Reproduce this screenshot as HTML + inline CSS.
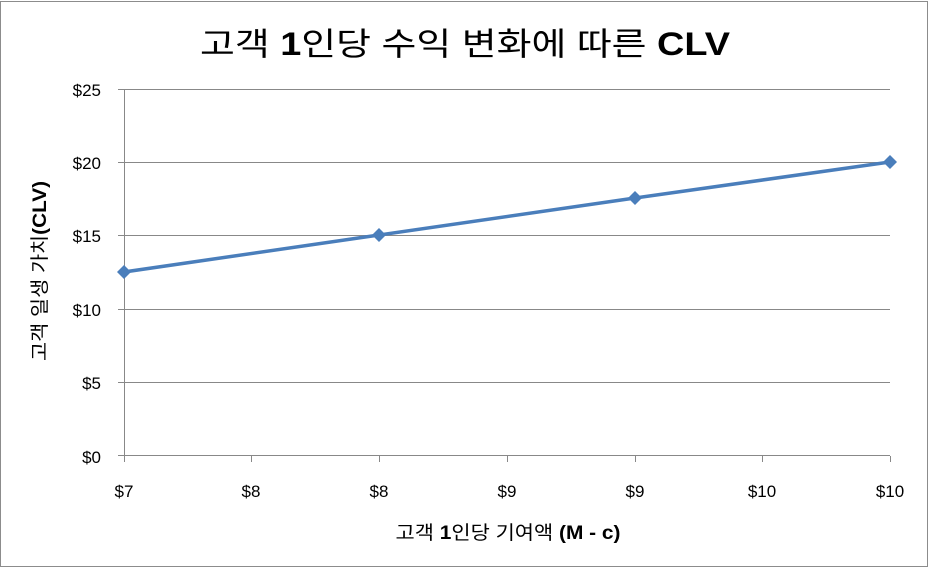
<!DOCTYPE html>
<html><head><meta charset="utf-8"><style>
body{margin:0;background:#fff;}
svg{display:block;}
text{font-family:"Liberation Sans","Noto Sans CJK KR",sans-serif;fill:#000;}
</style></head><body>
<svg width="930" height="569" viewBox="0 0 930 569">
<rect x="0.5" y="1.5" width="927" height="565" fill="#fff" stroke="#8c8c8c"/>
<text x="465" y="55" text-anchor="middle" font-size="32" textLength="530" lengthAdjust="spacingAndGlyphs">고객 <tspan font-weight="bold">1</tspan>인당 수익 변화에 따른 <tspan font-weight="bold">CLV</tspan></text>
<g stroke="#888" stroke-width="1">
<line x1="118" y1="89.5" x2="890" y2="89.5"/>
<line x1="118" y1="162.5" x2="890" y2="162.5"/>
<line x1="118" y1="235.5" x2="890" y2="235.5"/>
<line x1="118" y1="309.5" x2="890" y2="309.5"/>
<line x1="118" y1="382.5" x2="890" y2="382.5"/>
<line x1="118" y1="455.5" x2="890" y2="455.5"/>
<line x1="124.5" y1="89" x2="124.5" y2="462"/>
<line x1="251.5" y1="456" x2="251.5" y2="462"/>
<line x1="379.5" y1="456" x2="379.5" y2="462"/>
<line x1="507.5" y1="456" x2="507.5" y2="462"/>
<line x1="635.5" y1="456" x2="635.5" y2="462"/>
<line x1="762.5" y1="456" x2="762.5" y2="462"/>
<line x1="890.5" y1="456" x2="890.5" y2="462"/>
</g>
<g font-size="17" text-anchor="end">
<text x="101" y="96">$25</text>
<text x="101" y="169">$20</text>
<text x="101" y="242">$15</text>
<text x="101" y="316">$10</text>
<text x="101" y="389">$5</text>
<text x="101" y="463">$0</text>
</g>
<g font-size="17" text-anchor="middle">
<text x="124" y="497">$7</text>
<text x="251" y="497">$8</text>
<text x="379" y="497">$8</text>
<text x="507" y="497">$9</text>
<text x="635" y="497">$9</text>
<text x="762" y="497">$10</text>
<text x="890" y="497">$10</text>
</g>
<text x="508" y="539" text-anchor="middle" font-size="19" textLength="225" lengthAdjust="spacingAndGlyphs">고객 <tspan font-weight="bold">1</tspan>인당 기여액 <tspan font-weight="bold">(M - c)</tspan></text>
<text transform="translate(46,271) rotate(-90)" text-anchor="middle" font-size="19" textLength="180" lengthAdjust="spacingAndGlyphs">고객 일생 가치<tspan font-weight="bold">(CLV)</tspan></text>
<polyline points="124,272 379,235 635,198 890,162" fill="none" stroke="#4a7ebb" stroke-width="3.5"/>
<g fill="#4a7ebb">
<path d="M124,265 l7,7 l-7,7 l-7,-7z"/>
<path d="M379,228 l7,7 l-7,7 l-7,-7z"/>
<path d="M635,191 l7,7 l-7,7 l-7,-7z"/>
<path d="M890,155 l7,7 l-7,7 l-7,-7z"/>
</g>
</svg>
</body></html>
